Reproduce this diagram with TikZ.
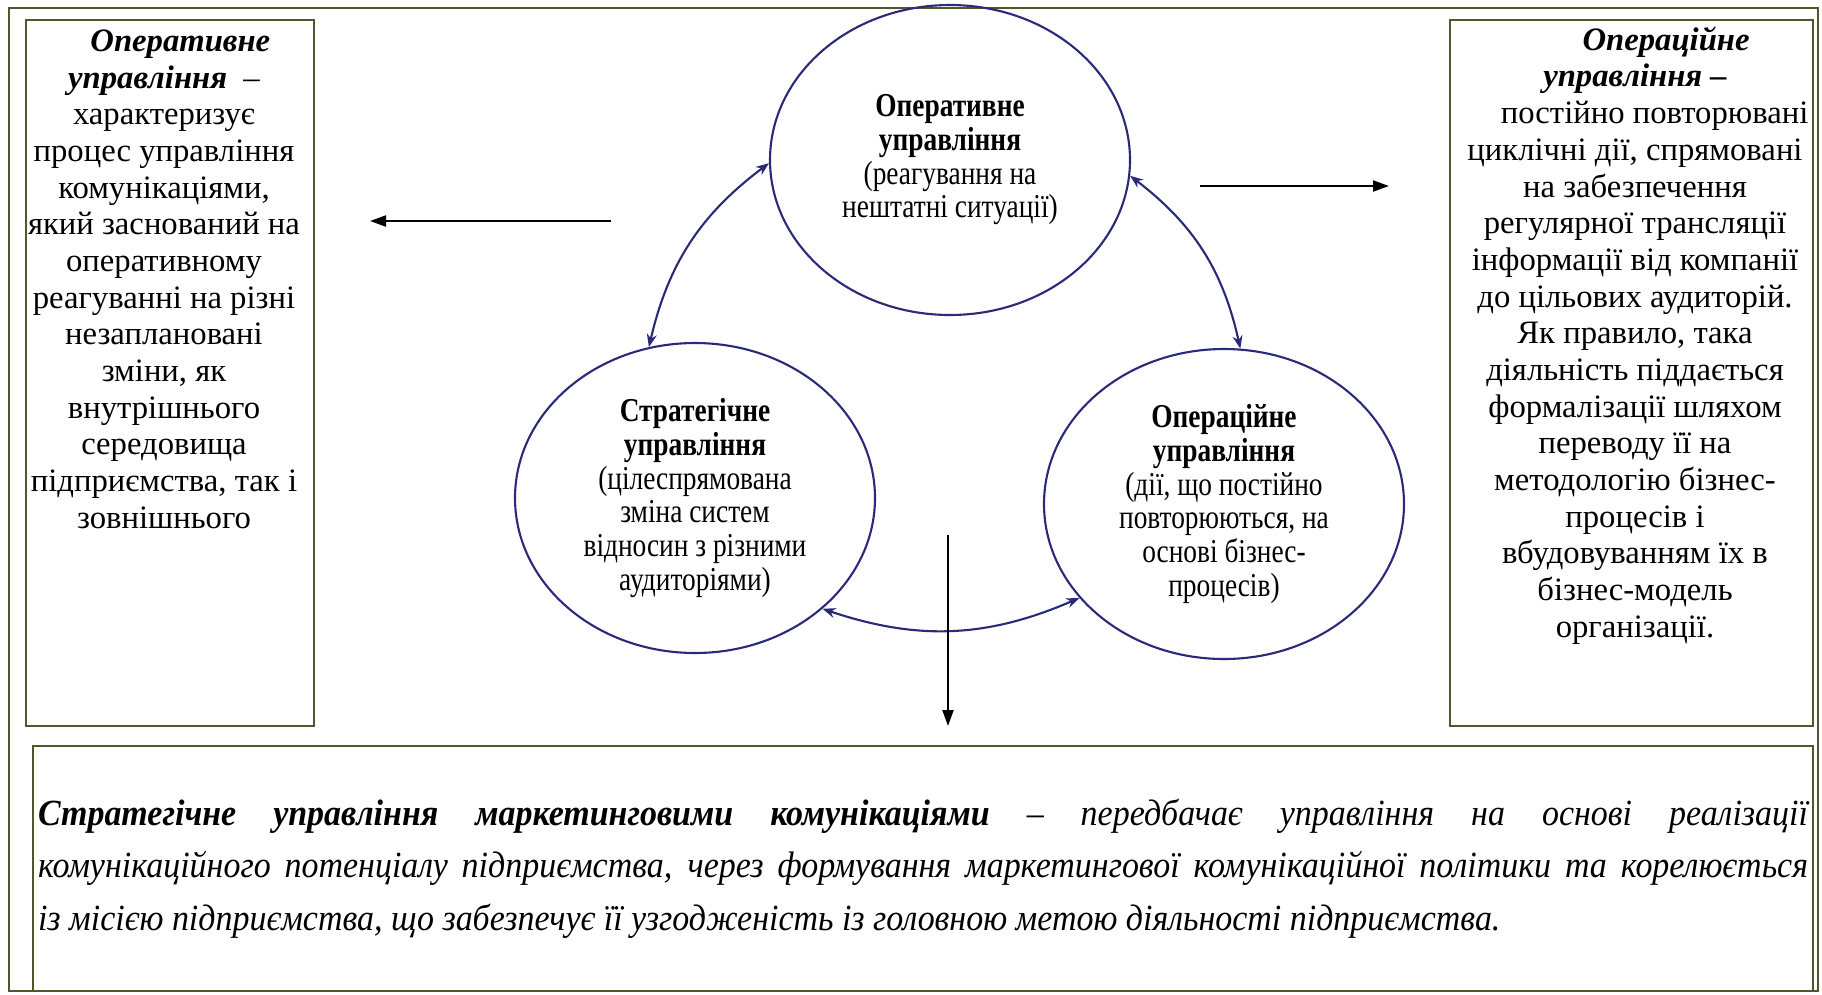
\documentclass[tikz,border=0pt]{standalone}
\usepackage{fontspec}
\setmainfont{Liberation Serif}
\newfontfamily\circfont[FakeStretch=0.82]{Liberation Serif}
\newfontfamily\notefont[FakeStretch=0.92]{Liberation Serif}
\usetikzlibrary{arrows.meta,positioning,shapes.geometric}

\definecolor{framegreen}{RGB}{79,88,42}
\definecolor{circblue}{RGB}{42,42,122}

\begin{document}
\begin{tikzpicture}[x=0.1mm, y=-0.1mm,
    infobox/.style={rectangle, draw=framegreen, line width=0.8pt, inner sep=0pt},
    boxtext/.style={align=center, font=\fontsize{9.3}{10.44}\selectfont, inner sep=0pt},
    level/.style={ellipse, draw=circblue, line width=0.6pt, minimum width=36mm, minimum height=31mm, inner sep=0pt, align=center, font=\circfont\fontsize{9.5}{9.58}\selectfont},
    link/.style={{Stealth[length=1.3mm, width=1mm]}-{Stealth[length=1.3mm, width=1mm]}, circblue, line width=0.6pt},
    pointer/.style={-{Triangle[length=1.6mm, width=1.1mm]}, black, line width=0.6pt}
]
\useasboundingbox (0,0) rectangle (1822,994);

% Outer frame
\node[infobox, minimum width=180.9mm, minimum height=98.3mm] (frame) at (913.5,499.5) {};

% Side boxes
\node[infobox, minimum width=28.8mm, minimum height=70.6mm] (leftbox) at (170,373) {};
\node[boxtext, anchor=north] (lefttext) at (164,29) {\hspace*{1em}\textbf{\textit{Оперативне}}\\
    \textbf{\textit{управління}}\ \ –\\ характеризує\\ процес управління\\ комунікаціями,\\ який заснований на\\
    оперативному\\ реагуванні на різні\\ незаплановані\\ зміни, як\\ внутрішнього\\ середовища\\
    підприємства, так і\\ зовнішнього};

\node[infobox, minimum width=36.3mm, minimum height=70.6mm] (rightbox) at (1631.5,373) {};
\node[boxtext, anchor=north] (righttext) at (1635,26) {\hspace*{1.9em}\textbf{\textit{Операційне}}\\
    \textbf{\textit{управління –}}\\ \hspace*{1.2em}постійно повторювані\\ циклічні дії, спрямовані\\ на забезпечення\\
    регулярної трансляції\\ інформації від компанії\\ до цільових аудиторій.\\ Як правило, така\\
    діяльність піддається\\ формалізації шляхом\\ переводу її на\\ методологію бізнес-\\ процесів і\\
    вбудовуванням їх в\\ бізнес-модель\\ організації.};

% Three kinds of management
\node[level] (operative) at (950,160) {\textbf{Оперативне}\\ \textbf{управління}\\ (реагування на\\ нештатні ситуації)};
\node[level] (strategic) at (695,498) {\textbf{Стратегічне}\\ \textbf{управління}\\ (цілеспрямована\\ зміна систем\\ відносин з різними\\ аудиторіями)};
\node[level] (operational) at (1224,504) {\textbf{Операційне}\\ \textbf{управління}\\ (дії, що постійно\\ повторюються, на\\ основі бізнес-\\ процесів)};

% Links between circles
\draw[link] (operative.181) to[bend right=20] (strategic.107);
\draw[link] (operative.355) to[bend left=20] (operational.84);
\draw[link] (strategic.319) to[bend right=21] (operational.213);

% Pointers to the descriptions
\coordinate (lstart) at (611,221);
\coordinate (lend) at (370,221);
\coordinate (rstart) at (1200,186);
\coordinate (rend) at (1389,186);
\coordinate (dstart) at (948,535);
\coordinate (dend) at (948,726);
\draw[pointer] (lstart) -- (lend);
\draw[pointer] (rstart) -- (rend);
\draw[pointer] (dstart) -- (dend);

% Bottom description
\node[infobox, minimum width=178mm, minimum height=24.5mm, text width=177mm, align=justify,
    font=\notefont\fontsize{10.5}{15}\selectfont\itshape] (summary) at (923,868.5)
    {\textbf{Стратегічне управління маркетинговими комунікаціями} – передбачає управління на основі реалізації\linebreak
    комунікаційного потенціалу підприємства, через формування маркетингової комунікаційної політики та корелюється\linebreak
    із місією підприємства, що забезпечує її узгодженість із головною метою діяльності підприємства.};

\end{tikzpicture}
\end{document}
